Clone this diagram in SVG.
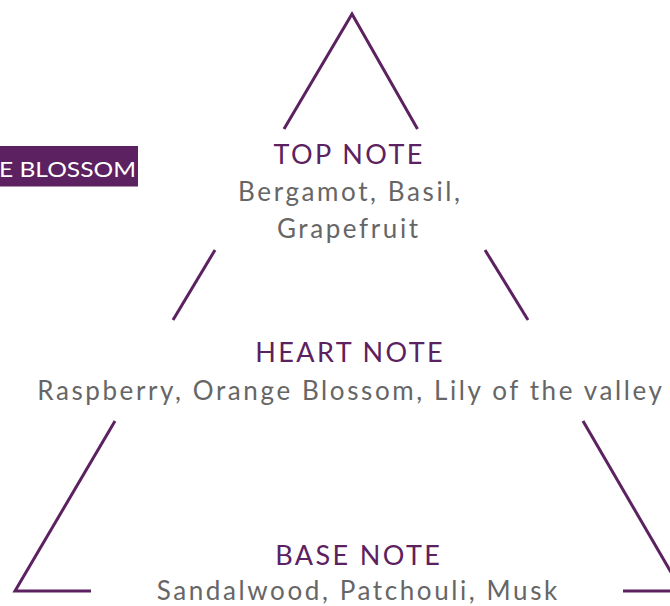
<svg xmlns="http://www.w3.org/2000/svg" width="670" height="606" viewBox="0 0 670 606">
<style>
.edge{stroke:#5c2160;stroke-width:3;fill:none;stroke-linecap:butt}
.title{font-family:Lato,"Open Sans",sans-serif;font-size:27px;fill:#5c2160;text-anchor:middle;letter-spacing:2.4px}
.notes{font-family:Lato,"Open Sans",sans-serif;font-size:26px;fill:#666666;text-anchor:middle;letter-spacing:2.6px}
.tag{font-family:Lato,"Open Sans",sans-serif;font-size:21px;fill:#ffffff}
</style>
<rect width="670" height="606" fill="#ffffff"/>
<g id="connectors">
<polyline class="edge" points="284,129 352,14 417.5,129"/>
<line class="edge" x1="215" y1="250" x2="173" y2="320"/>
<line class="edge" x1="485" y1="250" x2="528" y2="320"/>
<polyline class="edge" points="115,421 15,591 91,591"/>
<polyline class="edge" points="583,421 672,574"/>
<line class="edge" x1="623" y1="591" x2="670" y2="591"/>
</g>
<g id="tag">
<rect x="0" y="146" width="138" height="40.5" fill="#5c2160"/>
<text class="tag" x="-1" y="177" textLength="137" lengthAdjust="spacingAndGlyphs">E BLOSSOM</text>
</g>
<g id="top-note">
<text class="title" x="349.2" y="163.5">TOP NOTE</text>
<text class="notes" x="350.3" y="200.5">Bergamot, Basil,</text>
<text class="notes" x="348.8" y="238.3">Grapefruit</text>
</g>
<g id="heart-note">
<text class="title" x="350.2" y="362">HEART NOTE</text>
<text class="notes" x="350.8" y="400">Raspberry, Orange Blossom, Lily of the valley</text>
</g>
<g id="base-note">
<text class="title" x="358.7" y="564.5">BASE NOTE</text>
<text class="notes" x="358.3" y="600">Sandalwood, Patchouli, Musk</text>
</g>
</svg>
